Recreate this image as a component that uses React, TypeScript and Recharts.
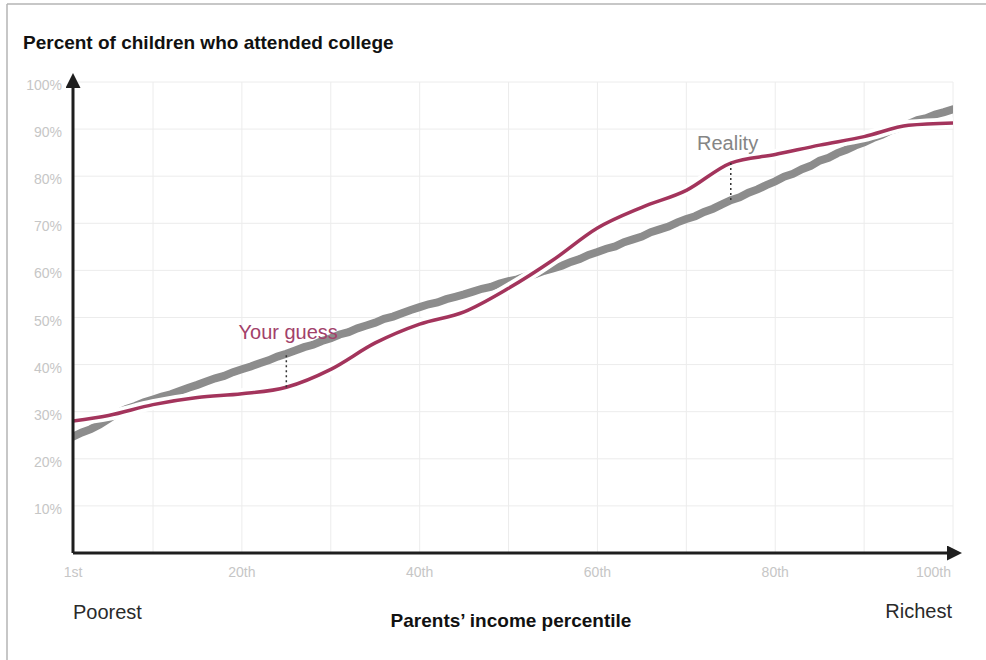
import React from "react";
import {
  ComposedChart,
  Line,
  XAxis,
  YAxis,
  CartesianGrid,
  ReferenceLine,
  ReferenceDot,
} from "recharts";

// parents' income percentile, 1..100
const percentiles = Array.from({ length: 100 }, (_, i) => i + 1);

// "Reality": share of children who attended college, per percentile
const realityValues = [
  24.7, 25.6, 26.3, 27.3, 28.5, 29.7, 30.6, 31.2, 32.0, 32.6,
  33.2, 33.7, 34.4, 35.1, 35.7, 36.4, 37.1, 37.6, 38.4, 39.0,
  39.6, 40.3, 40.9, 41.7, 42.3, 43.0, 43.7, 44.2, 45.0, 45.6,
  46.4, 46.9, 47.7, 48.3, 48.9, 49.7, 50.2, 50.9, 51.6, 52.2,
  52.8, 53.2, 53.9, 54.4, 54.9, 55.5, 56.1, 56.5, 57.2, 57.7,
  58.1, 58.8, 59.2, 59.9, 60.4, 61.0, 61.8, 62.4, 63.3, 63.9,
  64.6, 65.1, 66.0, 66.6, 67.2, 68.1, 68.7, 69.3, 70.2, 70.9,
  71.5, 72.4, 73.1, 74.0, 74.9, 75.5, 76.5, 77.2, 78.1, 78.9,
  79.9, 80.5, 81.5, 82.2, 83.3, 83.9, 84.9, 85.6, 86.5, 87.2,
  88.1, 88.8, 89.7, 90.3, 91.1, 91.9, 92.3, 93.1, 93.6, 94.2,
];

// "Your guess": drawn line
const guessPercentiles = [1, 5, 10, 15, 20, 25, 30, 35, 40, 45, 50, 55, 60, 65, 70, 75, 80, 85, 90, 95, 100];
const guessValues = [28, 29.2, 31.5, 33, 33.8, 35.2, 39, 44.6, 48.6, 51.2, 56.2, 62.2, 69, 73.4, 77, 82.8, 84.6, 86.6, 88.4, 90.8, 91.3];

// axes
const xTicks = [1, 10, 20, 30, 40, 50, 60, 70, 80, 90, 100];
const xLabelled = [1, 20, 40, 60, 80, 100];
const xLabels = ["1st", "20th", "40th", "60th", "80th", "100th"];
const yTicks = [0, 10, 20, 30, 40, 50, 60, 70, 80, 90, 100];

const realityData = percentiles.map((p, i) => ({ p, value: realityValues[i] }));
const guessData = guessPercentiles.map((p, i) => ({ p, value: guessValues[i] }));

const W = 986;
const H = 660;
const RED = "#a3345c";
const GRAY = "#8c8c8c";
const FONT = "'Liberation Sans', Arial, sans-serif";

const XTick = (props: any) => {
  const { x, y, payload } = props;
  const idx = xLabelled.indexOf(payload.value);
  if (idx < 0) return null;
  const last = payload.value === 100;
  return (
    <text
      x={last ? x - 2 : x}
      y={y}
      dy="0.71em"
      textAnchor={last ? "end" : "middle"}
      fontSize={14}
      fontFamily={FONT}
      fill="#c6c6c6"
    >
      {xLabels[idx]}
    </text>
  );
};

const YTick = (props: any) => {
  const { x, y, payload } = props;
  if (payload.value === 0) return null;
  return (
    <text x={x} y={y + 8} textAnchor="end" fontSize={14} fontFamily={FONT} fill="#c6c6c6">
      {payload.value}%
    </text>
  );
};

const valueAt = (p: number) => realityValues[percentiles.indexOf(p)];
const guessAt = (p: number) => guessValues[guessPercentiles.indexOf(p)];

export default function App() {
  return (
    <div style={{ position: "absolute", left: 0, top: 0, width: W, height: H, background: "#fff" }}>
      <svg width={0} height={0} style={{ position: "absolute" }}>
        <defs>
          <marker
            id="arrowHead"
            viewBox="0 0 10 10"
            refX={4}
            refY={5}
            markerWidth={5}
            markerHeight={5}
            orient="auto-start-reverse"
          >
            <path d="M0,0 L10,5 L0,10 z" fill="#1e1e1e" />
          </marker>
        </defs>
      </svg>
      <ComposedChart
        width={W}
        height={H}
        margin={{ top: 82, right: 33, bottom: 77, left: 0 }}
      >
        <CartesianGrid stroke="#ececec" strokeWidth={1} />
        <XAxis
          type="number"
          dataKey="p"
          domain={[1, 100]}
          ticks={xTicks}
          interval={0}
          height={30}
          allowDataOverflow
          tickLine={false}
          tickMargin={8}
          tick={<XTick />}
          axisLine={{ stroke: "#1e1e1e", strokeWidth: 3, markerEnd: "url(#arrowHead)" }}
        />
        <YAxis
          type="number"
          domain={[0, 100]}
          ticks={yTicks}
          interval={0}
          width={73}
          tickLine={false}
          tickMargin={5}
          tick={<YTick />}
          axisLine={{ stroke: "#1e1e1e", strokeWidth: 3, markerStart: "url(#arrowHead)" }}
        />
        <Line
          data={realityData}
          dataKey="value"
          type="linear"
          stroke={GRAY}
          strokeWidth={8}
          strokeLinecap="round"
          dot={false}
          activeDot={false}
          isAnimationActive={false}
        />
        <Line
          data={guessData}
          dataKey="value"
          type="monotone"
          stroke="#ffffff"
          strokeWidth={11}
          dot={false}
          activeDot={false}
          isAnimationActive={false}
        />
        <Line
          data={guessData}
          dataKey="value"
          type="monotone"
          stroke={RED}
          strokeWidth={3.5}
          dot={false}
          activeDot={false}
          isAnimationActive={false}
        />
        <ReferenceLine
          segment={[
            { x: 25, y: guessAt(25) },
            { x: 25, y: valueAt(25) },
          ]}
          stroke="#333"
          strokeWidth={1.5}
          strokeDasharray="2 3"
        />
        <ReferenceLine
          segment={[
            { x: 75, y: guessAt(75) },
            { x: 75, y: valueAt(75) },
          ]}
          stroke="#333"
          strokeWidth={1.5}
          strokeDasharray="2 3"
        />
        <ReferenceDot
          x={30.8}
          y={45.4}
          r={0}
          shape={(props: any) => (
            <text x={props.cx} y={props.cy} textAnchor="end" fontSize={20} fontFamily={FONT} fill="#a2416a">
              Your guess
            </text>
          )}
        />
        <ReferenceDot
          x={71.2}
          y={85.6}
          r={0}
          shape={(props: any) => (
            <text x={props.cx} y={props.cy} textAnchor="start" fontSize={20} fontFamily={FONT} fill="#858585">
              Reality
            </text>
          )}
        />
      </ComposedChart>
      <svg
        width={W}
        height={H}
        style={{ position: "absolute", left: 0, top: 0, pointerEvents: "none" }}
      >
        <line x1={7} y1={4} x2={W} y2={4} stroke="#b4b4b4" strokeWidth={1.5} />
        <line x1={7} y1={4} x2={7} y2={H} stroke="#b4b4b4" strokeWidth={1.5} />
        <text x={23} y={49} fontSize={19} fontWeight="bold" fontFamily={FONT} fill="#111">
          Percent of children who attended college
        </text>
        <text x={73} y={619} fontSize={20} fontFamily={FONT} fill="#2a2a2a">
          Poorest
        </text>
        <text x={952} y={618} fontSize={20} textAnchor="end" fontFamily={FONT} fill="#2a2a2a">
          Richest
        </text>
        <text x={511} y={627} fontSize={19} fontWeight="bold" textAnchor="middle" fontFamily={FONT} fill="#111">
          Parents’ income percentile
        </text>
      </svg>
    </div>
  );
}
